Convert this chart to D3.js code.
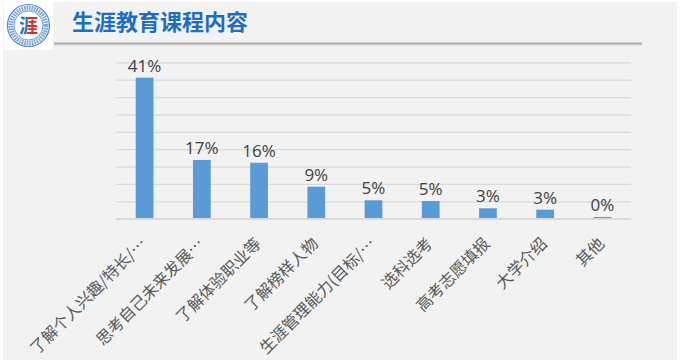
<!DOCTYPE html>
<html>
<head>
<meta charset="utf-8">
<script src="https://cdn.jsdelivr.net/npm/d3@7"></script>
<style>
  html, body { margin: 0; padding: 0; background: #ffffff; }
  svg { display: block; }
</style>
</head>
<body>
<svg id="chart" width="680" height="360"></svg>
<script>
const title = "生涯教育课程内容";
const categories = [
  "了解个人兴趣/特长/…",
  "思考自己未来发展…",
  "了解体验职业等",
  "了解榜样人物",
  "生涯管理能力(目标/…",
  "选科选考",
  "高考志愿填报",
  "大学介绍",
  "其他"
];
const values = [40.6, 16.9, 16.1, 9.2, 5.3, 5.1, 3.0, 2.6, 0.5];
const valueLabels = ["41%", "17%", "16%", "9%", "5%", "5%", "3%", "3%", "0%"];
const yTicks = [0, 5, 10, 15, 20, 25, 30, 35, 40, 45];

const svg = d3.select("#chart");
const plot = { left: 116, right: 631, top: 62.3, bottom: 218.7 };

// background panel
svg.append("rect").attr("x", 3).attr("y", 2).attr("width", 674).attr("height", 358)
  .attr("fill", "#f2f2f2");

// logo
const defs = svg.append("defs");
const grad = defs.append("linearGradient").attr("id", "logoChar").attr("x1", "0").attr("x2", "1");
grad.append("stop").attr("offset", "0.45").attr("stop-color", "#2f6db5");
grad.append("stop").attr("offset", "0.45").attr("stop-color", "#d0312d");
svg.append("rect").attr("x", 4).attr("y", 2).attr("width", 49).attr("height", 48).attr("fill", "#ffffff");
const logo = svg.append("g").attr("transform", "translate(28.5,25.5)");
logo.append("circle").attr("r", 21).attr("fill", "#ffffff").attr("stroke", "#4a86c8").attr("stroke-width", 1.2);
logo.append("circle").attr("r", 17.5).attr("fill", "none").attr("stroke", "#5b8fd0").attr("stroke-width", 5)
  .attr("stroke-dasharray", "1.6 0.9").attr("opacity", 0.8);
logo.append("circle").attr("r", 14.5).attr("fill", "#ffffff").attr("stroke", "#4a86c8").attr("stroke-width", 0.8);
logo.append("text").attr("x", 0).attr("y", 7).attr("text-anchor", "middle")
  .attr("font-family", "Noto Sans CJK SC").attr("font-size", 19).attr("font-weight", 700)
  .attr("fill", "url(#logoChar)").text("涯");

// title
svg.append("text").attr("x", 72).attr("y", 30)
  .attr("font-family", "Noto Sans CJK SC").attr("font-size", 22).attr("font-weight", 700)
  .attr("fill", "#1b6ec2").text(title);

// title underline
svg.append("line").attr("x1", 54).attr("x2", 642).attr("y1", 44.5).attr("y2", 44.5)
  .attr("stroke", "#e2e2e2").attr("stroke-width", 3);
svg.append("line").attr("x1", 54).attr("x2", 642).attr("y1", 43.5).attr("y2", 43.5)
  .attr("stroke", "#acacac").attr("stroke-width", 2);

// scales
const x = d3.scaleBand().domain(categories).range([plot.left, plot.right])
  .paddingInner(0.69).paddingOuter(0.345);
const y = d3.scaleLinear().domain([0, 45]).range([plot.bottom, plot.top]);

// gridlines
const grid = svg.append("g").attr("transform", `translate(${plot.left},0)`)
  .call(d3.axisLeft(y).tickValues(yTicks).tickSize(-(plot.right - plot.left)).tickFormat(""));
grid.select(".domain").remove();
grid.selectAll(".tick line").attr("stroke", "#d9d9d9").attr("stroke-width", 1.3);

// bars
svg.append("g").selectAll("rect").data(values).join("rect")
  .attr("x", (d, i) => x(categories[i]))
  .attr("y", d => y(d))
  .attr("width", x.bandwidth())
  .attr("height", d => y(0) - y(d))
  .attr("fill", "#5b9bd5");

// baseline
svg.append("line").attr("x1", plot.left).attr("x2", plot.right)
  .attr("y1", y(0)).attr("y2", y(0)).attr("stroke", "#d6d6d6").attr("stroke-width", 1.3);

// value labels
svg.append("g").selectAll("text").data(values).join("text")
  .attr("x", (d, i) => x(categories[i]) + x.bandwidth() / 2)
  .attr("y", d => y(d) - 6)
  .attr("text-anchor", "middle")
  .attr("font-family", "Open Sans").attr("font-size", 17)
  .attr("fill", "#404040")
  .text((d, i) => valueLabels[i]);

// category labels
const xAxis = svg.append("g").attr("transform", `translate(0,${plot.bottom})`)
  .call(d3.axisBottom(x).tickSize(0).tickFormat(d => d));
xAxis.select(".domain").remove();
xAxis.selectAll(".tick text")
  .attr("font-family", "Noto Sans CJK SC").attr("font-size", 16)
  .attr("fill", "#595959")
  .attr("text-anchor", "end")
  .attr("x", 0).attr("y", 0).attr("dy", "0.35em")
  .attr("transform", "translate(-1,22) rotate(-45)");
</script>
</body>
</html>
